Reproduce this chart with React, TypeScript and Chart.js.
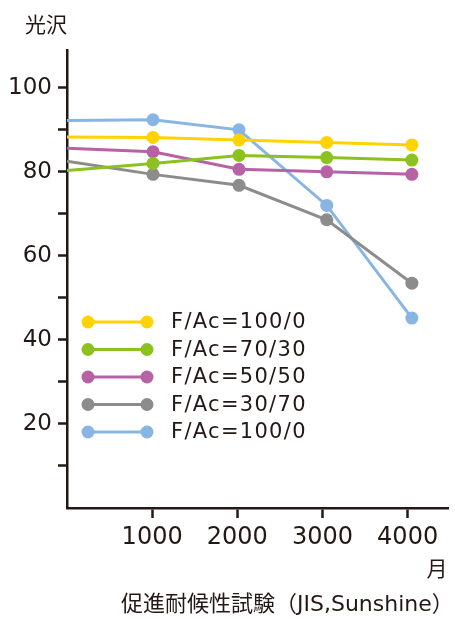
import React, { useEffect, useRef } from 'react';
import { Chart, registerables } from 'chart.js';

Chart.register(...registerables);

// Exposure time (hours) for each reading
const hours = [0, 1010, 2020, 3050, 4050];

// Series names (fluoro / acrylic ratio)
const seriesNames = ['F/Ac=100/0', 'F/Ac=70/30', 'F/Ac=50/50', 'F/Ac=30/70', 'F/Ac=100/0'];

// Gloss retention values per series
const gloss100a = [88.3, 88.2, 87.6, 87.0, 86.4];
const gloss70 = [80.3, 82.0, 83.9, 83.4, 82.8];
const gloss50 = [85.6, 84.8, 80.6, 80.0, 79.4];
const gloss30 = [82.5, 79.4, 76.8, 68.6, 53.5];
const gloss100b = [92.2, 92.4, 90.0, 72.0, 45.2];

const seriesValues = [gloss100a, gloss70, gloss50, gloss30, gloss100b];
const seriesColors = ['#FFD200', '#8CC21F', '#B862A6', '#8C8C8C', '#88B5E3'];

// Axis ticks
const xTickValues = [1000, 2000, 3000, 4000];
const yTickValues = [10, 20, 30, 40, 50, 60, 70, 80, 90, 100];

const INK = '#231815';
const LATIN = '"DejaVu Sans", "Noto Sans CJK JP", sans-serif';
const CJK = '"Noto Sans CJK JP", "DejaVu Sans", sans-serif';

const overlayPlugin = {
  id: 'glossOverlay',
  afterDraw(chart: any) {
    const ctx = chart.ctx as CanvasRenderingContext2D;
    const area = chart.chartArea;
    ctx.save();

    // Legend inside the plot area
    const rowTop = area.top + 272;
    const rowGap = 27.5;
    chart.data.datasets.forEach((ds: any, i: number) => {
      const y = rowTop + i * rowGap;
      const x1 = area.left + 21;
      const x2 = area.left + 80;
      ctx.strokeStyle = ds.borderColor;
      ctx.lineWidth = 3;
      ctx.beginPath();
      ctx.moveTo(x1, y);
      ctx.lineTo(x2, y);
      ctx.stroke();
      ctx.fillStyle = ds.borderColor;
      [x1, x2].forEach((x) => {
        ctx.beginPath();
        ctx.arc(x, y, 6.5, 0, Math.PI * 2);
        ctx.fill();
      });
      ctx.fillStyle = INK;
      ctx.font = `21px ${LATIN}`;
      (ctx as any).letterSpacing = '1.3px';
      ctx.textAlign = 'left';
      ctx.textBaseline = 'middle';
      ctx.fillText(ds.label, area.left + 104, y + 1);
      (ctx as any).letterSpacing = '0px';
    });

    // Axis captions
    ctx.fillStyle = INK;
    ctx.textBaseline = 'middle';
    ctx.font = `21px ${CJK}`;
    ctx.textAlign = 'left';
    ctx.fillText('光沢', 25, 24);

    ctx.textAlign = 'center';
    ctx.font = `21px ${CJK}`;
    ctx.fillText('月', 437, 568);

    ctx.textAlign = 'left';
    ctx.font = `22px ${LATIN}`;
    ctx.fillText('促進耐候性試験（JIS,Sunshine）', 121, 605);

    ctx.restore();
  },
};

export default function App() {
  const canvasRef = useRef<HTMLCanvasElement | null>(null);

  useEffect(() => {
    if (!canvasRef.current) return;
    const chart = new Chart(canvasRef.current, {
      type: 'scatter',
      data: {
        datasets: seriesValues.map((vals, i) => ({
          label: seriesNames[i],
          data: vals.map((v, j) => ({ x: hours[j], y: v })),
          showLine: true,
          borderColor: seriesColors[i],
          backgroundColor: seriesColors[i],
          borderWidth: 3,
          pointRadius: hours.map((h) => (h === 0 ? 0 : 6.5)),
          pointHoverRadius: 6.5,
          pointBorderWidth: 0,
          tension: 0,
        })),
      },
      options: {
        animation: false,
        responsive: false,
        layout: { padding: { top: 50, right: 5, left: 0, bottom: 0 } },
        plugins: {
          legend: { display: false },
          tooltip: { enabled: false },
        },
        scales: {
          x: {
            type: 'linear',
            min: 0,
            max: 4480,
            afterFit: (scale: any) => {
              scale.height = 111;
            },
            afterBuildTicks: (scale: any) => {
              scale.ticks = xTickValues.map((v) => ({ value: v }));
            },
            ticks: {
              color: INK,
              font: { family: LATIN, size: 24 },
              padding: 5,
              callback: (v: any) => String(v),
              maxRotation: 0,
            },
            grid: {
              drawOnChartArea: false,
              drawTicks: true,
              tickLength: 10,
              tickWidth: 2.5,
              tickColor: INK,
            },
            border: { display: true, color: INK, width: 2.5 },
          },
          y: {
            type: 'linear',
            min: 0,
            max: 109,
            afterFit: (scale: any) => {
              scale.width = 67;
            },
            afterBuildTicks: (scale: any) => {
              scale.ticks = yTickValues.map((v) => ({ value: v }));
            },
            ticks: {
              color: INK,
              font: { family: LATIN, size: 23 },
              padding: 6,
              callback: (v: any) => (Number(v) % 20 === 0 ? String(v) : ''),
            },
            grid: {
              drawOnChartArea: false,
              drawTicks: true,
              tickLength: 9,
              tickWidth: 2.5,
              tickColor: INK,
            },
            border: { display: true, color: INK, width: 2.5 },
          },
        },
      },
      plugins: [overlayPlugin],
    });
    return () => chart.destroy();
  }, []);

  return (
    <div style={{ position: 'absolute', left: 0, top: 0, width: 455, height: 619, background: '#fff' }}>
      <canvas ref={canvasRef} width={455} height={619} />
    </div>
  );
}
